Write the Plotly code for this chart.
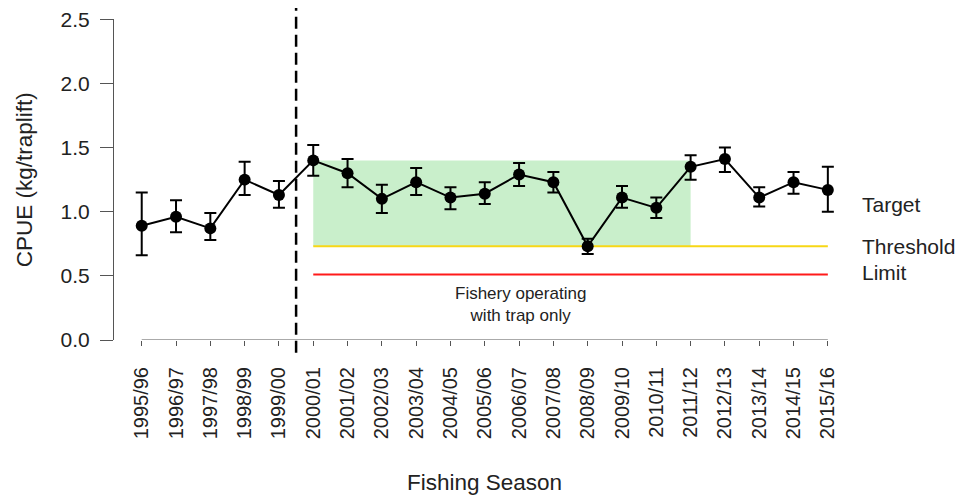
import plotly.graph_objects as go

seasons = ['1995/96', '1996/97', '1997/98', '1998/99', '1999/00', '2000/01', '2001/02',
           '2002/03', '2003/04', '2004/05', '2005/06', '2006/07', '2007/08', '2008/09',
           '2009/10', '2010/11', '2011/12', '2012/13', '2013/14', '2014/15', '2015/16']
cpue = [0.89, 0.96, 0.87, 1.25, 1.13, 1.40, 1.30, 1.10, 1.23, 1.11, 1.14, 1.29, 1.23, 0.73,
        1.11, 1.03, 1.35, 1.41, 1.11, 1.23, 1.17]
upper = [1.15, 1.09, 0.99, 1.39, 1.24, 1.52, 1.41, 1.21, 1.34, 1.19, 1.23, 1.38, 1.31, 0.79,
         1.20, 1.11, 1.44, 1.50, 1.19, 1.31, 1.35]
lower = [0.66, 0.84, 0.78, 1.13, 1.03, 1.28, 1.19, 0.99, 1.13, 1.02, 1.06, 1.20, 1.15, 0.67,
         1.03, 0.95, 1.25, 1.31, 1.04, 1.14, 1.00]

target = 1.40
threshold = 0.73
limit = 0.51
ref_start, ref_end = '2000/01', '2011/12'
ytick_vals = [0.0, 0.5, 1.0, 1.5, 2.0, 2.5]

x = list(range(len(seasons)))
i0 = seasons.index(ref_start)
i1 = seasons.index(ref_end)
ilast = len(seasons) - 1

FONT = "Liberation Sans, Arial, sans-serif"
TXT = "#222222"
AX = "#555555"

fig = go.Figure()
fig.add_trace(go.Scatter(
    x=x, y=cpue, mode="lines+markers",
    line=dict(color="black", width=2),
    marker=dict(color="black", size=12),
    error_y=dict(type="data", symmetric=False,
                 array=[u - c for u, c in zip(upper, cpue)],
                 arrayminus=[c - l for c, l in zip(cpue, lower)],
                 color="black", thickness=2, width=6),
    showlegend=False, hoverinfo="skip"))

shapes = [
    # green reference rectangle
    dict(type="rect", xref="x", yref="y", x0=i0, x1=i1, y0=threshold, y1=target,
         fillcolor="#c9efcb", line=dict(width=0), layer="below"),
    # threshold line
    dict(type="line", xref="x", yref="y", x0=i0, x1=ilast, y0=threshold, y1=threshold,
         line=dict(color="#f7d716", width=2), layer="below"),
    # limit line
    dict(type="line", xref="x", yref="y", x0=i0, x1=ilast, y0=limit, y1=limit,
         line=dict(color="#ff1a1a", width=2), layer="below"),
    # dashed separator
    dict(type="line", xref="x", yref="paper", x0=i0 - 0.5, x1=i0 - 0.5, y0=-0.04, y1=1.042,
         line=dict(color="black", width=2.5, dash="12px,6px")),
    # x axis line (R style, from first to last tick)
    dict(type="line", xref="x", yref="y", x0=0, x1=ilast, y0=0, y1=0,
         line=dict(color=AX, width=1)),
]

annotations = [
    dict(text="Target", x=ilast + 0.95, y=1.06, xref="x", yref="y", xanchor="left",
         yanchor="middle", showarrow=False, font=dict(size=21, color=TXT, family=FONT)),
    dict(text="Threshold", x=ilast + 0.95, y=threshold, xref="x", yref="y", xanchor="left",
         yanchor="middle", showarrow=False, font=dict(size=21, color=TXT, family=FONT)),
    dict(text="Limit", x=ilast + 0.95, y=0.53, xref="x", yref="y", xanchor="left",
         yanchor="middle", showarrow=False, font=dict(size=21, color=TXT, family=FONT)),
    dict(text="Fishery operating<br>with trap only", x=11.05, y=0.28, xref="x", yref="y",
         xanchor="center", yanchor="middle", showarrow=False,
         font=dict(size=17, color=TXT, family=FONT)),
    dict(text="Fishing Season", x=10, y=-0.445, xref="x", yref="paper", xanchor="center",
         yanchor="middle", showarrow=False, font=dict(size=22.5, color=TXT, family=FONT)),
    dict(text="CPUE (kg/traplift)", x=-0.105, y=0.5, xref="paper", yref="paper",
         xanchor="center", yanchor="middle", textangle=-90, showarrow=False,
         font=dict(size=22.5, color=TXT, family=FONT)),
]

fig.update_layout(
    width=955, height=489,
    margin=dict(l=106, r=0, t=11, b=157),
    paper_bgcolor="white", plot_bgcolor="white",
    shapes=shapes, annotations=annotations,
    font=dict(family=FONT, color=TXT),
    xaxis=dict(range=[-0.808, 23.94], tickvals=x, ticktext=seasons, tickangle=-90,
               ticks="outside", ticklen=5, tickcolor=AX, showline=False, showgrid=False,
               zeroline=False, tickfont=dict(size=20, color=TXT, family=FONT),
               ticklabelstandoff=13),
    yaxis=dict(range=[0, 2.502], tickvals=ytick_vals, tickformat=".1f", ticks="outside",
               ticklen=13, tickcolor=AX, showline=True, linecolor=AX, linewidth=1,
               showgrid=False, zeroline=False, ticklabeloverflow="allow",
               tickfont=dict(size=21, color=TXT, family=FONT), ticklabelstandoff=6),
)

fig.write_html("out.html")
